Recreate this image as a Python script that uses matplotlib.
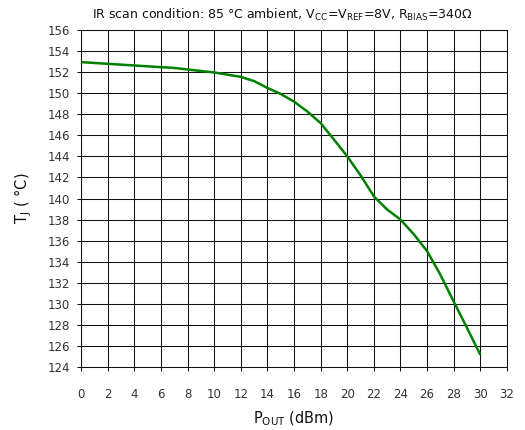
import matplotlib
matplotlib.use("Agg")
import matplotlib.pyplot as plt
import numpy as np

pout_dbm = [0, 2, 4, 6, 7, 8, 10, 12, 13, 14, 15, 16, 17, 18, 19, 20, 21, 22, 23, 24, 25, 26, 27, 28, 29, 30]
tj_c = [152.95, 152.79, 152.63, 152.47, 152.4, 152.25, 151.97, 151.55, 151.15, 150.5, 149.93, 149.2,
        148.26, 147.16, 145.6, 144.0, 142.2, 140.2, 138.95, 138.0, 136.6, 135.0, 132.75, 130.2, 127.7, 125.15]
x_ticks = list(range(0, 33, 2))
y_ticks = list(range(124, 157, 2))

plt.rcParams['font.family'] = ['DejaVu Sans']
plt.rcParams['mathtext.default'] = 'regular'

fig = plt.figure(figsize=(5.25, 4.3), dpi=100)
ax = fig.add_axes([81/525, (430-367)/430, (507-81)/525, (367-30)/430])

ax.plot(pout_dbm, tj_c, color='#008000', lw=1.8, zorder=3, solid_capstyle='butt', solid_joinstyle='round')

ax.set_xlim(0, 32)
ax.set_ylim(124, 156)
ax.set_xticks(x_ticks)
ax.set_yticks(y_ticks)
ax.grid(True, color='#111111', lw=0.75)
ax.set_axisbelow(True)
for s in ax.spines.values():
    s.set_color('#111111')
    s.set_linewidth(0.75)
ax.tick_params(axis='x', direction='out', length=3, width=0.75, pad=12, labelsize=8.5, colors='#333333')
ax.tick_params(axis='y', direction='out', length=3, width=0.75, pad=5, labelsize=8.5, colors='#333333')
ax.tick_params(axis='both', color='#111111')

ax.set_xlabel('P$_{OUT}$ (dBm)', fontsize=10.5, color='#111111', labelpad=6)
ax.set_ylabel('T$_{J}$ ( °C)', fontsize=10.5, color='#111111', labelpad=10)

fig.text(282/525, 1 - 15/430, 'IR scan condition: 85 °C ambient, V$_{CC}$=V$_{REF}$=8V, R$_{BIAS}$=340Ω',
         ha='center', va='center', fontsize=9, color='#111111')

fig.savefig('out.png', dpi=100, facecolor='white')
